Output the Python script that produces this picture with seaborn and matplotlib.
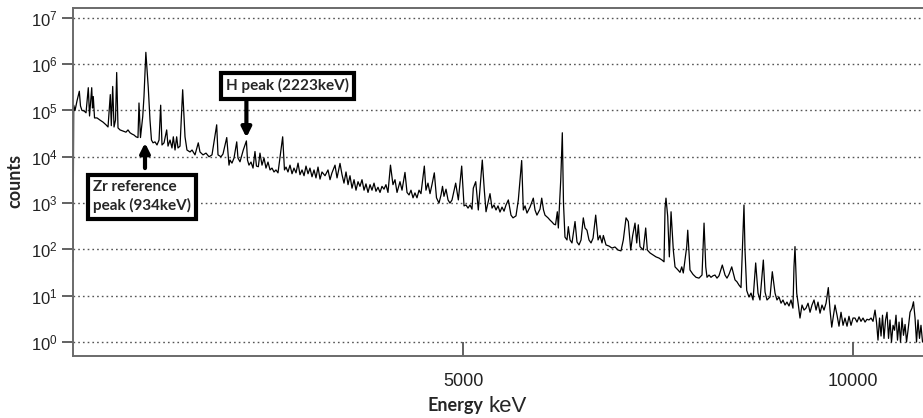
import matplotlib
matplotlib.use('Agg')
import matplotlib.pyplot as plt
from matplotlib.ticker import NullLocator
import seaborn as sns
import pandas as pd

# spectrum, split in chunks along the energy axis (keV)
energy_a = [0, 9, 26, 51, 81, 96, 115, 141, 167, 196, 212, 240, 250, 260, 276, 308, 346, 385, 423, 449,
            478, 491, 509, 526, 545, 560, 577, 603, 641, 679, 705, 731, 756, 782, 808, 833, 846, 865, 894, 910,
            934, 965, 987, 1006, 1026, 1051, 1077, 1103, 1124, 1141, 1167, 1201, 1218, 1244, 1269, 1286, 1308, 1329, 1346, 1372,
            1406, 1436, 1461, 1500, 1526, 1564, 1606, 1628, 1667, 1705, 1744, 1782, 1842, 1859, 1897, 1923, 1971, 2000]
counts_a = [54, 1.3e5, 1.0e5, 1.6e5, 2.6e5, 1.25e5, 1.0e5, 9.8e4, 8.9e4, 3.1e5, 7.6e4, 3.1e5, 1.13e5, 2.0e5, 6.9e4, 6.9e4, 6.2e4, 5.6e4, 4.9e4, 4.4e4,
            2.2e5, 4.7e4, 3.3e5, 4.4e4, 6.2e4, 6.6e5, 4.2e4, 3.8e4, 3.6e4, 3.4e4, 3.8e4, 3.3e4, 3.1e4, 2.95e4, 2.7e4, 2.6e4, 1.45e5, 2.6e4, 7.4e4, 2.0e5,
            1.8e6, 3.1e5, 6.2e4, 2.3e4, 2.0e4, 2.1e4, 1.8e4, 2.3e4, 1.3e5, 1.8e4, 2.0e4, 3.8e4, 1.7e4, 2.3e4, 1.55e4, 2.7e4, 1.4e4, 2.7e4, 1.55e4, 1.7e4,
            2.8e5, 2.7e4, 1.4e4, 1.27e4, 1.4e4, 1.1e4, 2.0e4, 1.27e4, 1.1e4, 1.2e4, 1.0e4, 1.1e4, 4.9e4, 1.1e4, 1.0e4, 1.15e4, 2.6e4, 6.6e3]

energy_b = [2013, 2038, 2064, 2099, 2115, 2141, 2183, 2223, 2237, 2256, 2282, 2308, 2333, 2352, 2376, 2397, 2423, 2449, 2474, 2500,
            2526, 2551, 2577, 2602, 2628, 2688, 2711, 2731, 2756, 2782, 2808, 2833, 2859, 2885, 2910, 2936, 2962, 2987, 3013, 3038,
            3064, 3090, 3115, 3141, 3167, 3192, 3231, 3269, 3295, 3320, 3359, 3385, 3423, 3449, 3474, 3500, 3526, 3551, 3577, 3603,
            3628, 3654, 3679, 3705, 3731, 3756, 3782, 3808, 3833, 3859, 3884, 3910, 3936, 3961, 3987, 4012, 4038, 4070]
counts_b = [8.5e3, 7.3e3, 9.4e3, 2.1e4, 9.4e3, 7.8e3, 1.4e4, 2.2e4, 8.5e3, 6.6e3, 7.7e3, 5.7e3, 1.3e4, 6.3e3, 6.1e3, 1.2e4, 6.6e3, 9.4e3, 5.7e3, 7.7e3,
            5.2e3, 5.7e3, 4.7e3, 5.2e3, 4.5e3, 2.7e4, 5.2e3, 6.0e3, 4.7e3, 6.6e3, 4.3e3, 5.7e3, 4.5e3, 7.3e3, 4.1e3, 5.2e3, 3.9e3, 6.3e3, 4.3e3, 5.7e3,
            3.7e3, 5.2e3, 3.5e3, 6.0e3, 3.3e3, 4.7e3, 3.9e3, 5.2e3, 3.2e3, 4.5e3, 6.6e3, 3.5e3, 7.2e3, 4.1e3, 2.7e3, 4.7e3, 2.5e3, 3.9e3, 2.1e3, 3.2e3,
            1.9e3, 2.9e3, 2.3e3, 3.2e3, 1.9e3, 2.6e3, 1.7e3, 2.5e3, 1.9e3, 2.7e3, 1.8e3, 2.2e3, 1.7e3, 2.3e3, 2.0e3, 2.5e3, 1.7e3, 6.6e3]

energy_c = [4102, 4128, 4154, 4192, 4218, 4256, 4282, 4308, 4333, 4359, 4384, 4410, 4436, 4461, 4504, 4525, 4551, 4577, 4602, 4632,
            4660, 4692, 4718, 4737, 4756, 4782, 4808, 4833, 4859, 4906, 4940, 4983, 5013, 5038, 5064, 5090, 5115, 5132, 5163, 5196,
            5247, 5273, 5295, 5346, 5372, 5397, 5423, 5449, 5474, 5500, 5526, 5551, 5581, 5615, 5641, 5679, 5709, 5752, 5773, 5795,
            5820, 5859, 5901, 5923, 5948, 5987, 6009, 6032, 6051]
counts_c = [2.5e3, 3.2e3, 1.7e3, 2.9e3, 1.9e3, 4.6e3, 1.7e3, 1.5e3, 1.9e3, 1.3e3, 1.66e3, 1.3e3, 1.9e3, 1.6e3, 6.3e3, 1.9e3, 2.7e3, 1.6e3, 2.5e3, 4.5e3,
            1.3e3, 1.0e3, 1.5e3, 2.3e3, 1.4e3, 2.0e3, 1.17e3, 1.0e3, 1.17e3, 2.7e3, 1.17e3, 6.3e3, 870, 910, 780, 910, 740, 2.1e3, 2.9e3, 710,
            8.5e3, 1.9e3, 650, 1.6e3, 780, 910, 710, 870, 640, 820, 670, 910, 1.17e3, 550, 480, 530, 1.17e3, 8.3e3, 710, 870,
            610, 820, 1.28e3, 710, 550, 740, 1.28e3, 710, 550]

energy_d = [6090, 6115, 6141, 6166, 6186, 6209, 6222, 6253, 6273, 6288, 6307, 6333, 6350, 6372, 6397, 6436, 6461, 6487, 6513, 6542,
            6564, 6589, 6615, 6641, 6667, 6701, 6731, 6756, 6782, 6799, 6833, 6872, 6910, 6948, 6987, 7025, 7055, 7090, 7119, 7150,
            7175, 7205, 7227, 7247, 7269, 7311, 7342, 7363, 7397, 7436, 7474, 7513, 7551, 7577, 7590, 7602, 7624, 7645, 7667, 7696,
            7718, 7756, 7782, 7804, 7824, 7868, 7881, 7910, 7948, 7987, 8025]
counts_d = [480, 430, 390, 350, 340, 650, 290, 3.2e3, 3.3e4, 1.0e3, 185, 160, 310, 160, 138, 400, 145, 125, 160, 480,
            290, 260, 160, 138, 175, 550, 160, 200, 138, 200, 125, 118, 107, 113, 97, 93, 160, 480, 400, 97,
            200, 370, 138, 340, 115, 97, 290, 97, 84, 76, 69, 65, 59, 54, 780, 1.28e3, 520, 69, 650, 97,
            42, 36, 32, 42, 31, 115, 260, 36, 29, 25, 24]

energy_e = [8064, 8090, 8112, 8128, 8154, 8179, 8205, 8230, 8256, 8282, 8324, 8359, 8384, 8410, 8445, 8465, 8487, 8512, 8538, 8564,
            8602, 8615, 8637, 8666, 8692, 8718, 8752, 8782, 8807, 8850, 8872, 8897, 8936, 8965, 9000, 9025, 9051, 9077, 9102, 9128,
            9153, 9179, 9205, 9230, 9243, 9256, 9278, 9299, 9320, 9346, 9372, 9397, 9423, 9449, 9474, 9500, 9526, 9551, 9577, 9602,
            9628, 9654, 9683, 9705, 9727, 9769, 9795, 9820, 9846, 9872, 9897, 9923, 9948, 9974, 10000]
counts_e = [28, 370, 42, 25, 28, 25, 27, 28, 24, 27, 46, 28, 24, 29, 42, 31, 22, 20, 17, 15,
            910, 97, 13, 9.4, 11.4, 8.1, 51, 11.4, 8.1, 59, 12, 8.1, 9.4, 33, 11.4, 8.1, 9.4, 6.9, 8.1, 6.3,
            7.3, 6.0, 8.1, 5.4, 42, 115, 11.4, 6.3, 3.3, 6.3, 4.9, 5.4, 6.9, 4.4, 6.3, 8.1, 4.9, 7.3, 4.2, 6.3,
            4.9, 6.9, 15, 4.9, 2.1, 6.3, 3.8, 2.2, 4.4, 2.3, 3.3, 2.2, 3.6, 2.3, 3.3]

energy_f = [10025, 10051, 10077, 10102, 10128, 10154, 10179, 10205, 10231, 10256, 10282, 10301, 10320, 10340, 10359, 10378, 10397, 10417, 10436, 10455,
            10474, 10493, 10513, 10532, 10551, 10570, 10590, 10609, 10628, 10647, 10667, 10686, 10705, 10731, 10756, 10775, 10795, 10814, 10833, 10852,
            10871, 10891]
counts_f = [3.3, 2.7, 3.5, 2.8, 3.3, 2.7, 3.1, 3.0, 3.3, 2.8, 4.9, 2.7, 1.1, 3.3, 1.35, 3.8, 1.2, 3.0, 4.4, 1.2,
            3.0, 1.0, 2.3, 1.8, 3.8, 1.1, 2.7, 1.0, 3.3, 1.4, 2.4, 1.0, 1.8, 4.4, 5.4, 7.4, 3.3, 1.0, 3.0, 1.2,
            2.3, 1.0]

y_ticks = [1e0, 1e1, 1e2, 1e3, 1e4, 1e5, 1e6, 1e7]
x_ticks = [5000, 10000]

# annotated peaks (keV)
h_peak = 2223
zr_peak = 934

spec = pd.DataFrame({
    'energy': energy_a + energy_b + energy_c + energy_d + energy_e + energy_f,
    'counts': counts_a + counts_b + counts_c + counts_d + counts_e + counts_f,
})

sns.set_style('white')
plt.rcParams['font.family'] = ['Liberation Sans', 'DejaVu Sans']
plt.rcParams['mathtext.default'] = 'regular'

fig = plt.figure(figsize=(9.23, 4.18), dpi=100)
ax = fig.add_axes([73 / 923, 1 - 356 / 418, 850 / 923, 348 / 418])

sns.lineplot(data=spec, x='energy', y='counts', ax=ax, color='black',
             linewidth=0.9, estimator=None, sort=False)

ax.set_yscale('log')
ax.set_ylim(0.5, 1.63e7)
ax.set_xlim(0, 10897)
ax.set_yticks(y_ticks)
ax.yaxis.set_minor_locator(NullLocator())
ax.set_xticks(x_ticks)
ax.set_xticklabels([str(t) for t in x_ticks])
ax.set_xlabel('')
ax.set_ylabel('')

ax.yaxis.grid(True, linestyle=(0, (1.2, 2.2)), color='#555555', linewidth=1.0)
ax.xaxis.grid(False)

for side in ['left', 'bottom', 'top']:
    ax.spines[side].set_color('#6a6a6a')
    ax.spines[side].set_linewidth(1.4)
ax.spines['right'].set_visible(False)

ax.tick_params(axis='y', left=True, direction='out', length=8, width=1.3, color='#555555',
               labelsize=12, labelcolor='#222222', pad=3)
ax.tick_params(axis='x', bottom=True, direction='in', length=10, width=1.3, color='#555555',
               labelsize=13, labelcolor='#222222', pad=12)

# boxes with arrows
box = dict(boxstyle='square,pad=0.35', facecolor='white', edgecolor='black', linewidth=3)
ax.text(0.18, 0.776, 'H peak (2223keV)', transform=ax.transAxes, fontsize=11,
        fontweight='bold', family='Lato', va='center', ha='left', bbox=box)
ax.text(0.0235, 0.458, 'Zr reference\npeak (934keV)', transform=ax.transAxes, fontsize=11,
        fontweight='bold', family='Lato', va='center', ha='left', linespacing=1.35, bbox=box)

arrow = dict(arrowstyle='-|>', color='black', lw=3, mutation_scale=14, shrinkA=0, shrinkB=0)
ax.annotate('', xy=(h_peak, 2.6e4), xytext=(h_peak, 1.7e5), arrowprops=arrow)
ax.annotate('', xy=(zr_peak - 11, 2.0e4), xytext=(zr_peak - 11, 5.7e3), arrowprops=arrow)

fig.text(15 / 923, 1 - 181 / 418, 'counts', rotation=90, fontsize=13, fontweight='bold',
         family='Lato', ha='center', va='center')
fig.text(483 / 923, 1 - 411 / 418, 'Energy', fontsize=13, fontweight='bold', family='Lato',
         ha='right', va='baseline')
fig.text(488 / 923, 1 - 412 / 418, 'keV', fontsize=16, ha='left', va='baseline')

fig.savefig('out.png', dpi=100)
